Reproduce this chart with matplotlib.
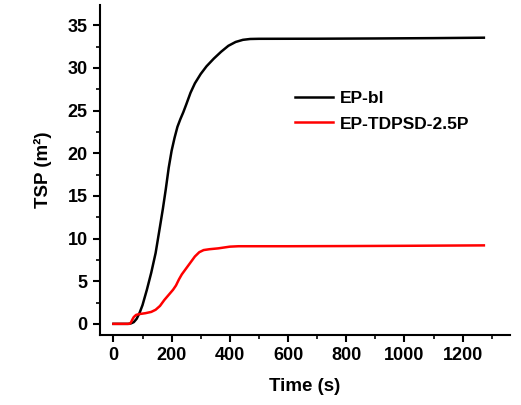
import numpy as np
from matplotlib import pyplot as plt
from matplotlib.ticker import MultipleLocator

plt.rcParams['font.family'] = ['Liberation Sans', 'DejaVu Sans']
plt.rcParams['font.weight'] = 'bold'

# EP-bl (black)
t_bl = [0, 50, 60, 70, 80, 90, 100, 115, 130, 145, 160, 170, 180, 190, 200,
        210, 220, 230, 240, 250, 265, 280, 300, 320, 345, 370, 395, 420, 445,
        470, 500, 700, 900, 1100, 1273]
tsp_bl = [0, 0, 0.05, 0.2, 0.6, 1.3, 2.2, 4.0, 6.0, 8.3, 11.4, 13.5, 15.8, 18.3,
          20.3, 21.8, 23.1, 24.0, 24.8, 25.7, 27.1, 28.2, 29.3, 30.2, 31.1, 31.9,
          32.6, 33.05, 33.3, 33.4, 33.42, 33.43, 33.46, 33.5, 33.55]

# EP-TDPSD-2.5P (red)
t_td = [0, 55, 60, 65, 70, 78, 90, 110, 130, 145, 160, 175, 190, 205, 215, 225,
        235, 250, 265, 280, 295, 310, 330, 360, 400, 430, 600, 800, 1000, 1273]
tsp_td = [0, 0, 0.15, 0.5, 0.8, 1.05, 1.15, 1.25, 1.4, 1.65, 2.1, 2.8, 3.4, 4.0,
          4.5, 5.2, 5.8, 6.5, 7.2, 7.9, 8.4, 8.65, 8.75, 8.85, 9.05, 9.1, 9.1,
          9.12, 9.15, 9.2]

fig = plt.figure(figsize=(5.21, 4.05), dpi=100)
ax = fig.add_axes([0.192, 0.173, 0.787, 0.815])

ax.plot(t_bl, tsp_bl, color='black', lw=1.8, label='EP-bl')
ax.plot(t_td, tsp_td, color='red', lw=1.8, label='EP-TDPSD-2.5P')

ax.set_xlim(-46, 1363)
ax.set_ylim(-1.3, 37.4)
ax.xaxis.set_major_locator(MultipleLocator(200))
ax.xaxis.set_minor_locator(MultipleLocator(100))
ax.yaxis.set_major_locator(MultipleLocator(5))
ax.yaxis.set_minor_locator(MultipleLocator(2.5))

for side in ('top', 'right'):
    ax.spines[side].set_visible(False)
for side in ('left', 'bottom'):
    ax.spines[side].set_linewidth(1.5)

ax.tick_params(which='major', direction='out', length=5, width=1.5,
               labelsize=13, pad=4)
ax.tick_params(which='minor', direction='out', length=3, width=1.2)
for lbl in ax.get_xticklabels() + ax.get_yticklabels():
    lbl.set_fontweight('bold')

ax.set_xlabel('Time (s)', fontsize=13.5, fontweight='bold', labelpad=10)
ax.set_ylabel('TSP (m²)', fontsize=13.5, fontweight='bold', labelpad=11)

ax.legend(loc='upper left', bbox_to_anchor=(0.437, 0.787), frameon=False,
          handlelength=2.2, handletextpad=0.4, labelspacing=0.6,
          borderaxespad=0.5, prop={'weight': 'bold', 'size': 12.5})

fig.savefig('out.png', dpi=100)
